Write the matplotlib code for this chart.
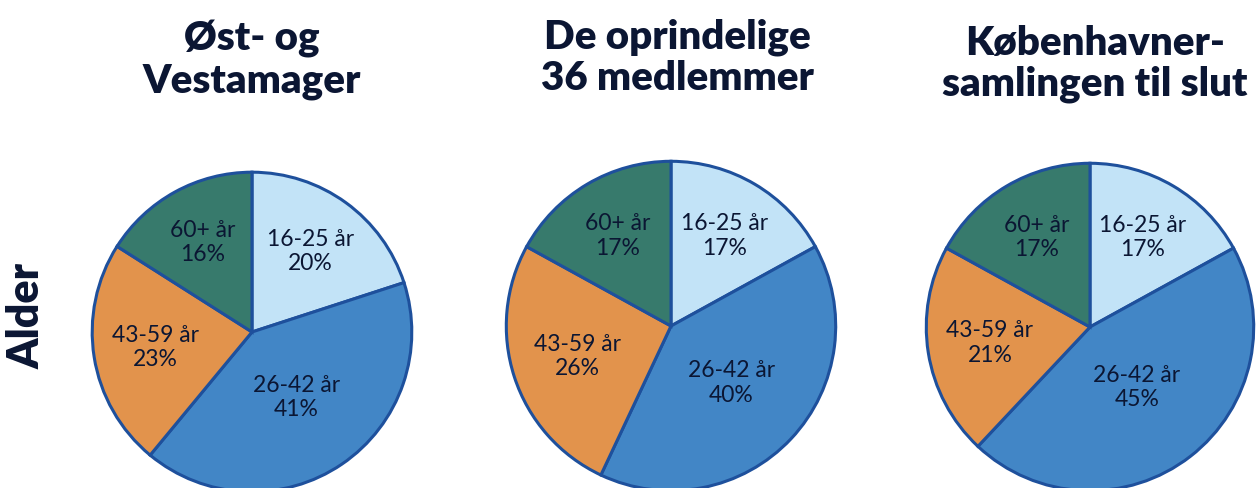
import matplotlib
matplotlib.use("Agg")
import matplotlib.pyplot as plt
import numpy as np

titles = ["Øst- og\nVestamager", "De oprindelige\n36 medlemmer", "Københavner-\nsamlingen til slut"]
categories = ["16-25 år", "26-42 år", "43-59 år", "60+ år"]
values_ost_vest = [20, 41, 23, 16]
values_oprindelige = [17, 40, 26, 17]
values_kbh = [17, 45, 21, 17]
series = [values_ost_vest, values_oprindelige, values_kbh]
side_label = "Alder"

colors = ["#C2E3F7", "#4286C6", "#E2934C", "#377A6C"]
edge = "#1E509C"
txt = "#0B1633"

W, H = 1260, 488
fig = plt.figure(figsize=(W / 100, H / 100), dpi=100)
fig.patch.set_facecolor("white")

# pie centre (px from left, px from top) and radius px
geom = [(252, 332, 163), (671, 326, 168), (1090, 327, 167)]
title_pos = [(252, 60), (677, 58), (1095, 64)]

for vals, title, (cx, cy, r), (tx, ty) in zip(series, titles, geom, title_pos):
    ax = fig.add_axes([(cx - r) / W, (H - cy - r) / H, 2 * r / W, 2 * r / H])
    wedges, _ = ax.pie(vals, colors=colors, startangle=90, counterclock=False,
                       radius=1, wedgeprops=dict(edgecolor=edge, linewidth=2.2))
    ax.set_xlim(-1.02, 1.02)
    ax.set_ylim(-1.02, 1.02)
    ax.set_aspect("equal")
    ax.axis("off")
    for w, cat, v in zip(wedges, categories, vals):
        t1, t2 = np.deg2rad(w.theta1), np.deg2rad(w.theta2)
        a = (t2 - t1) / 2
        mid = (t1 + t2) / 2
        d = (2 / 3) * np.sin(a) / a
        ax.text(d * np.cos(mid), d * np.sin(mid), f"{cat}\n{v}%", ha="center", va="center",
                fontsize=16.5, color=txt, family="Lato", linespacing=1.2)
    fig.text(tx / W, 1 - ty / H, title, ha="center", va="center", fontsize=29,
             fontweight="heavy", family="Lato", color=txt, linespacing=1.12)

fig.text(27 / W, 1 - 316 / H, side_label, rotation=90, ha="center", va="center",
         fontsize=31, fontweight="heavy", family="Lato", color=txt)

fig.savefig("out.png", dpi=100)
